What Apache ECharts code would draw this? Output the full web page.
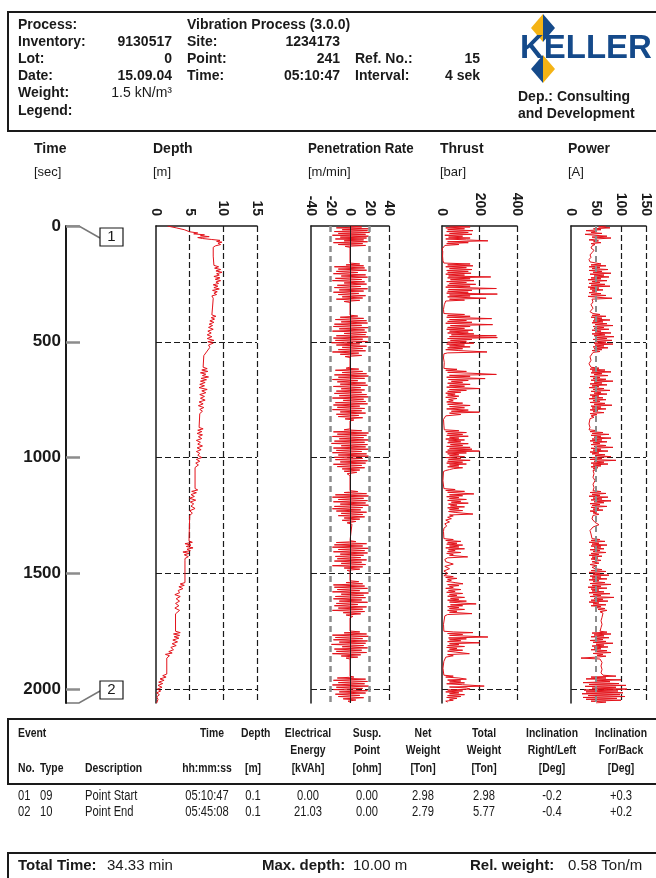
<!DOCTYPE html>
<html>
<head>
<meta charset="utf-8">
<script src="https://cdn.jsdelivr.net/npm/echarts@6/dist/echarts.min.js"></script>
<style>
  html, body { margin: 0; padding: 0; background: #fff; }
  #chart { width: 656px; height: 878px; }
</style>
</head>
<body>
<div id="chart"></div>
<script>
// every series is [time in sec, value]
const depth = [[0,1.7],[8,3.0],[16,4.2],[25,5.0],[30,6.2],[34,5.6],[38,7.2],[42,6.6],[46,7.9],[50,6.2],[54,6.9],[58,8.2],[62,9.5],[66,9.0],[70,9.8],[74,9.2],[80,9.6],[86,8.8],[92,8.5],[130,8.5],[170,8.6],[176,9.3],[182,8.7],[188,9.6],[194,8.9],[200,9.8],[206,9.0],[212,9.4],[218,8.6],[224,9.5],[230,8.8],[236,9.6],[242,8.9],[248,9.3],[254,8.5],[260,9.2],[266,8.6],[272,9.4],[278,8.4],[284,9.1],[290,8.6],[296,9.0],[302,8.3],[312,8.5],[350,8.4],[384,8.3],[390,8.9],[396,8.2],[402,8.7],[410,8.0],[416,8.6],[424,7.9],[430,8.4],[438,7.8],[446,8.5],[454,7.7],[462,8.2],[470,7.6],[478,8.3],[486,7.6],[494,8.6],[500,7.7],[506,8.5],[514,7.8],[524,8.0],[544,7.5],[560,7.1],[610,7.0],[616,7.6],[622,6.8],[628,7.7],[634,6.6],[640,7.4],[646,6.9],[652,7.8],[658,6.7],[664,7.5],[670,6.6],[676,7.3],[684,6.5],[690,7.2],[698,6.4],[706,7.6],[712,6.8],[720,7.4],[728,6.5],[736,7.2],[744,6.6],[752,7.3],[760,6.4],[768,7.0],[776,6.3],[784,7.1],[792,6.5],[800,6.9],[810,6.5],[870,6.4],[876,7.0],[882,6.2],[888,6.8],[896,6.1],[902,6.9],[910,6.3],[918,6.8],[926,6.0],[934,6.6],[942,6.2],[950,6.9],[958,6.1],[966,6.7],[974,6.0],[982,6.5],[990,6.2],[1000,6.8],[1008,6.0],[1016,6.5],[1024,5.9],[1032,6.3],[1043,5.8],[1134,5.8],[1140,6.2],[1146,5.3],[1152,6.0],[1160,5.2],[1168,5.7],[1176,5.0],[1184,5.9],[1192,5.1],[1200,5.6],[1210,5.2],[1220,5.8],[1230,5.0],[1240,5.4],[1250,5.0],[1260,5.0],[1360,4.9],[1366,5.4],[1372,4.3],[1378,5.2],[1384,4.5],[1390,5.5],[1396,4.6],[1402,5.1],[1408,4.0],[1414,4.9],[1420,4.2],[1428,4.8],[1436,4.3],[1446,4.3],[1540,4.3],[1546,3.6],[1552,4.2],[1558,3.4],[1566,4.0],[1574,3.3],[1584,3.5],[1592,2.8],[1600,3.6],[1610,3.0],[1620,3.5],[1630,2.9],[1640,3.4],[1650,2.8],[1660,3.5],[1675,2.9],[1750,2.9],[1756,3.6],[1762,2.6],[1768,3.5],[1774,2.7],[1780,3.4],[1788,2.5],[1796,3.2],[1804,2.4],[1812,3.0],[1820,2.2],[1830,2.6],[1838,1.9],[1844,2.4],[1850,1.4],[1856,2.0],[1866,1.6],[1935,1.6],[1942,1.0],[1948,1.5],[1956,0.6],[1962,1.2],[1970,0.4],[1976,1.0],[1984,0.3],[1992,0.9],[2000,0.2],[2008,0.7],[2016,0.1],[2024,0.5],[2034,0.1],[2044,0.3],[2060,0.1]]

const penRate = [[0,0],[4,12],[8,-14],[12,19],[16,-8],[20,18],[24,-16],[28,20],[32,-12],[36,16],[40,-18],[44,19],[48,-10],[52,17],[56,-15],[60,14],[64,-6],[68,18],[72,-17],[76,13],[80,-12],[84,16],[88,-5],[92,0],[160,0],
  [164,10],[168,-4],[172,14],[176,-16],[181,15],[186,-12],[191,17],[196,-14],[201,8],[206,-17],[211,16],[216,-9],[221,18],[226,-15],[231,12],[236,-18],[241,15],[246,-6],[251,17],[256,-13],[261,11],[266,-16],[271,18],[276,-11],[281,14],[286,-17],[291,9],[296,-12],[301,16],[306,-8],[311,13],[316,-14],[321,10],[326,-6],[330,0],[385,0],
  [389,8],[394,-10],[399,14],[404,-15],[409,17],[414,-9],[419,18],[424,-16],[429,12],[434,-17],[439,19],[444,-11],[449,15],[454,-18],[459,17],[464,-6],[469,16],[474,-14],[479,19],[484,-17],[489,13],[494,-15],[499,18],[504,-19],[509,10],[514,-14],[519,17],[524,-8],[529,13],[534,-12],[539,16],[544,-18],[549,9],[554,-10],[559,12],[564,-5],[568,0],[610,0],
  [614,-4],[618,9],[623,-15],[628,13],[633,-8],[638,17],[643,-16],[648,19],[653,-12],[658,15],[663,-18],[668,8],[673,-13],[678,16],[683,-10],[688,18],[693,-17],[698,11],[703,-9],[708,15],[713,-14],[718,12],[723,-16],[728,17],[733,-11],[738,19],[743,-18],[748,14],[753,-7],[758,16],[763,-15],[768,18],[773,-17],[778,10],[783,-13],[788,15],[793,-18],[798,12],[803,-10],[808,16],[813,-14],[818,9],[823,-12],[828,13],[833,-5],[838,4],[842,0],[876,0],
  [880,-6],[884,12],[889,-17],[894,19],[899,-13],[904,17],[909,-18],[914,14],[919,-11],[924,20],[929,-16],[934,15],[939,-19],[944,18],[949,-9],[954,16],[959,-17],[964,19],[969,-14],[974,12],[979,-18],[984,17],[989,-12],[994,19],[999,-16],[1004,13],[1009,-15],[1014,18],[1019,-10],[1024,16],[1029,-17],[1034,12],[1039,-13],[1044,15],[1049,-8],[1054,10],[1059,-6],[1064,7],[1070,-3],[1078,0],[1143,0],
  [1147,8],[1151,-6],[1156,17],[1161,-15],[1166,19],[1171,-18],[1176,14],[1181,-12],[1186,18],[1191,-17],[1196,16],[1201,-10],[1206,19],[1211,-16],[1216,13],[1221,-18],[1226,11],[1231,-14],[1236,17],[1241,-9],[1246,13],[1251,-12],[1256,15],[1261,-6],[1266,10],[1271,-8],[1276,6],[1282,-3],[1288,2],[1294,0],[1359,0],
  [1363,6],[1367,-14],[1372,17],[1377,-16],[1382,13],[1387,-18],[1392,19],[1397,-12],[1402,15],[1407,-17],[1412,18],[1417,-10],[1422,14],[1427,-15],[1432,11],[1437,-13],[1442,17],[1447,-16],[1452,12],[1457,-9],[1462,16],[1467,-18],[1472,13],[1477,-6],[1482,10],[1487,-3],[1491,0],[1532,0],
  [1536,9],[1540,-4],[1545,13],[1550,-17],[1555,15],[1560,-16],[1565,18],[1570,-13],[1575,10],[1580,-18],[1585,19],[1590,-9],[1595,14],[1600,-15],[1605,16],[1610,-17],[1615,12],[1620,-11],[1625,18],[1630,-14],[1635,8],[1640,-16],[1645,17],[1650,-12],[1655,13],[1660,-18],[1665,15],[1670,-7],[1675,11],[1680,-4],[1686,3],[1692,0],[1749,0],
  [1753,10],[1757,-6],[1762,17],[1767,-18],[1772,19],[1777,-15],[1782,13],[1787,-17],[1792,18],[1797,-11],[1802,16],[1807,-19],[1812,14],[1817,-8],[1822,18],[1827,-16],[1832,12],[1837,-14],[1842,17],[1847,-18],[1852,11],[1857,-9],[1862,8],[1866,-4],[1870,0],[1944,0],
  [1948,4],[1952,-13],[1957,16],[1962,-17],[1967,18],[1972,-12],[1977,15],[1982,-18],[1987,19],[1992,-14],[1997,13],[2002,-17],[2007,18],[2012,-11],[2017,16],[2022,-15],[2027,10],[2032,-12],[2037,14],[2042,-7],[2047,6],[2052,-2],[2056,0]]

const thrust = [[0,40],[4,150],[8,20],[12,120],[16,30],[20,165],[24,25],[28,140],[32,40],[36,160],[40,15],[44,110],[48,35],[52,150],[56,20],[60,130],[64,245],[68,30],[72,140],[76,25],[80,90],[84,15],[90,8],[100,0],[110,4],[130,3],[150,5],[160,10],
  [164,150],[168,30],[172,165],[176,20],[180,130],[184,40],[188,160],[192,25],[196,140],[200,30],[204,155],[208,20],[212,120],[216,35],[220,260],[224,30],[228,150],[232,45],[236,170],[240,25],[244,130],[248,40],[252,180],[256,30],[260,150],[264,20],[270,290],[274,35],[278,160],[282,30],[286,140],[290,25],[294,295],[298,40],[302,150],[306,30],[312,235],[316,40],[320,120],[324,20],[330,10],[340,12],[360,8],[378,10],
  [382,120],[386,30],[390,150],[394,25],[400,265],[404,40],[408,130],[412,30],[416,160],[420,20],[426,270],[430,45],[434,150],[438,30],[442,120],[446,25],[450,165],[454,40],[458,140],[462,30],[466,170],[470,50],[474,290],[478,40],[482,295],[486,30],[490,160],[494,45],[498,130],[502,30],[506,170],[510,25],[514,120],[518,40],[522,150],[526,30],[530,110],[534,20],[538,90],[544,240],[548,30],[552,10],[570,8],[590,12],[615,10],
  [619,80],[623,20],[628,130],[632,30],[636,160],[641,290],[645,40],[649,150],[653,25],[659,230],[663,35],[667,140],[671,50],[675,110],[679,30],[684,150],[688,40],[692,120],[696,25],[702,200],[706,40],[710,130],[714,30],[718,100],[722,20],[726,70],[730,30],[735,90],[740,20],[745,80],[750,35],[755,60],[760,25],[765,110],[770,30],[775,150],[780,40],[785,120],[790,25],[795,140],[800,50],[804,200],[808,40],[814,100],[820,20],[828,10],[835,8],[860,10],[880,12],
  [884,90],[888,20],[892,130],[896,30],[900,110],[904,25],[908,140],[912,40],[916,90],[920,20],[924,120],[928,35],[932,100],[936,30],[940,140],[944,45],[948,110],[952,25],[956,150],[960,40],[964,160],[968,30],[972,200],[976,20],[980,130],[984,30],[988,90],[992,40],[996,120],[1000,20],[1004,100],[1008,35],[1012,150],[1016,30],[1020,110],[1024,25],[1028,130],[1032,40],[1036,90],[1040,30],[1044,110],[1048,60],[1052,40],[1056,20],[1060,8],[1100,5],[1134,10],
  [1138,70],[1142,20],[1146,120],[1150,30],[1157,170],[1161,40],[1165,110],[1169,25],[1173,90],[1177,40],[1181,130],[1185,30],[1189,100],[1193,50],[1197,140],[1201,35],[1205,80],[1209,45],[1213,120],[1217,30],[1221,90],[1225,40],[1229,110],[1233,35],[1237,70],[1244,165],[1248,40],[1252,60],[1258,30],[1264,50],[1270,20],[1278,40],[1286,15],[1296,25],[1305,10],[1320,8],[1350,10],
  [1354,60],[1358,20],[1362,100],[1366,30],[1370,80],[1374,25],[1378,110],[1382,40],[1386,90],[1390,20],[1394,120],[1398,35],[1402,70],[1406,30],[1410,100],[1414,25],[1418,60],[1422,40],[1429,137],[1433,30],[1440,15],[1450,20],[1460,60],[1470,15],[1480,40],[1490,10],[1500,30],[1510,10],
  [1514,60],[1518,20],[1522,80],[1526,30],[1530,50],[1535,25],[1540,70],[1545,112],[1549,30],[1553,90],[1557,40],[1561,60],[1565,20],[1570,100],[1574,35],[1578,70],[1582,25],[1587,110],[1591,40],[1595,80],[1599,30],[1604,120],[1608,45],[1612,90],[1616,30],[1620,130],[1624,40],[1628,100],[1632,182],[1636,45],[1640,110],[1644,30],[1648,90],[1652,40],[1656,120],[1660,30],[1664,80],[1668,40],[1674,160],[1678,30],[1684,15],[1690,10],[1720,8],[1750,10],
  [1753,60],[1756,165],[1760,30],[1764,110],[1768,40],[1775,245],[1779,35],[1783,130],[1787,40],[1791,100],[1795,30],[1800,200],[1804,40],[1808,90],[1812,30],[1816,120],[1820,25],[1824,80],[1828,40],[1832,110],[1836,30],[1840,70],[1847,146],[1851,30],[1856,60],[1862,20],[1870,30],[1880,10],[1910,5],[1940,10],
  [1944,60],[1948,20],[1952,90],[1957,130],[1961,30],[1965,100],[1969,40],[1973,120],[1977,25],[1981,110],[1987,225],[1991,40],[1995,130],[2000,150],[2004,30],[2008,110],[2012,20],[2016,90],[2020,40],[2024,120],[2028,30],[2032,100],[2036,25],[2040,80],[2044,40],[2048,60],[2052,20],[2056,30],[2060,15]]

const power = [[0,70],[4,55],[8,78],[12,45],[16,60],[20,30],[24,52],[28,40],[32,62],[36,28],[40,48],[44,72],[48,42],[52,80],[56,50],[60,36],[64,55],[68,45],[72,60],[76,40],[80,48],[86,42],[95,40],[105,46],[115,42],[125,38],[135,40],[145,36],[155,38],[160,42],
  [164,60],[168,40],[172,70],[176,36],[180,58],[184,42],[188,74],[192,36],[196,62],[200,44],[204,80],[208,38],[212,66],[216,46],[220,76],[224,40],[228,60],[232,34],[236,72],[240,42],[244,58],[248,36],[252,68],[256,40],[260,78],[264,34],[268,56],[272,38],[276,64],[280,42],[284,52],[288,36],[292,60],[296,40],[300,70],[304,34],[308,54],[312,82],[316,42],[322,40],[328,44],[340,40],[355,44],[370,38],[378,44],
  [382,58],[386,42],[390,70],[394,40],[398,62],[402,46],[406,78],[410,44],[414,64],[418,42],[422,72],[426,48],[430,84],[434,44],[438,66],[442,46],[446,76],[450,42],[454,60],[458,48],[462,80],[466,42],[470,68],[474,46],[478,86],[482,50],[486,72],[490,44],[494,82],[498,52],[502,70],[506,46],[510,84],[514,48],[518,66],[522,44],[526,74],[530,46],[534,62],[538,42],[542,58],[546,44],[550,40],[565,38],[580,40],[595,36],[610,40],
  [614,56],[618,38],[622,68],[626,42],[630,80],[634,40],[638,62],[642,46],[646,74],[650,38],[654,58],[658,44],[662,70],[666,40],[670,84],[674,46],[678,62],[682,38],[686,72],[690,42],[694,56],[698,36],[702,66],[706,44],[710,78],[714,40],[718,60],[722,46],[726,72],[730,38],[734,56],[738,42],[742,64],[746,36],[750,70],[754,44],[758,58],[762,38],[766,68],[770,46],[774,82],[778,40],[782,60],[786,42],[790,70],[794,38],[798,54],[802,44],[806,66],[810,38],[815,52],[820,40],[826,46],[832,38],[840,40],[855,36],[870,38],[880,36],
  [884,52],[888,38],[892,64],[896,42],[900,76],[904,40],[908,60],[912,46],[916,80],[920,42],[924,62],[928,38],[932,72],[936,44],[940,58],[944,40],[948,70],[952,46],[956,84],[960,40],[964,60],[968,44],[972,74],[976,38],[980,56],[984,42],[988,68],[992,48],[996,80],[1000,42],[1004,62],[1008,38],[1012,90],[1016,46],[1020,66],[1024,40],[1028,74],[1032,44],[1036,60],[1040,40],[1044,54],[1048,44],[1052,52],[1056,44],[1070,46],[1085,44],[1100,48],[1115,44],[1130,46],[1143,44],
  [1147,60],[1151,38],[1155,70],[1159,42],[1163,58],[1167,36],[1171,74],[1175,44],[1179,62],[1183,40],[1187,80],[1191,46],[1195,66],[1199,38],[1203,58],[1207,42],[1211,72],[1215,40],[1219,56],[1223,44],[1227,64],[1231,38],[1235,52],[1239,44],[1245,56],[1250,44],[1265,42],[1280,48],[1290,56],[1300,44],[1315,38],[1330,40],[1350,42],
  [1354,58],[1358,40],[1362,68],[1366,36],[1370,56],[1374,42],[1378,72],[1382,40],[1386,60],[1390,46],[1394,66],[1398,38],[1402,58],[1406,44],[1410,70],[1414,40],[1418,56],[1422,36],[1426,62],[1430,42],[1434,54],[1438,40],[1444,60],[1450,42],[1456,56],[1462,38],[1468,52],[1474,42],[1480,48],
  [1484,62],[1488,40],[1492,70],[1496,36],[1500,58],[1504,44],[1508,76],[1512,38],[1516,60],[1520,42],[1524,72],[1528,36],[1532,56],[1536,44],[1540,68],[1544,38],[1548,80],[1552,42],[1556,60],[1560,34],[1564,72],[1568,40],[1572,56],[1576,42],[1580,66],[1584,36],[1588,78],[1592,44],[1596,60],[1600,38],[1604,86],[1608,46],[1612,64],[1616,40],[1620,74],[1624,36],[1628,56],[1632,44],[1636,70],[1640,40],[1644,60],[1648,48],[1652,68],[1656,54],[1660,72],[1666,58],[1672,64],[1680,60],[1690,62],[1705,60],[1720,62],[1735,60],[1750,58],
  [1754,72],[1758,42],[1762,80],[1766,46],[1770,66],[1774,40],[1778,76],[1782,48],[1786,64],[1790,38],[1794,70],[1798,44],[1802,84],[1806,50],[1810,66],[1814,42],[1818,74],[1822,46],[1826,60],[1830,40],[1834,72],[1838,48],[1842,80],[1846,44],[1850,64],[1854,52],[1858,70],[1862,50],[1866,20],[1870,58],[1885,62],[1900,60],[1915,62],[1930,60],[1940,64],
  [1944,90],[1948,40],[1952,70],[1956,30],[1960,100],[1964,48],[1968,78],[1972,24],[1976,96],[1980,36],[1984,110],[1988,28],[1992,90],[1996,42],[2000,112],[2004,26],[2008,94],[2012,30],[2016,104],[2020,22],[2024,98],[2028,34],[2032,108],[2036,24],[2040,92],[2044,30],[2048,100],[2052,40],[2056,70],[2060,50]]

const timeMax = 2060
const timeStep = 500

const events = [
  ['01', '09', 'Point Start', '05:10:47', '0.1', '0.00', '0.00', '2.98', '2.98', '-0.2', '+0.3'],
  ['02', '10', 'Point End', '05:45:08', '0.1', '21.03', '0.00', '2.79', '5.77', '-0.4', '+0.2']
]

const FONT = '"Liberation Sans", Arial, sans-serif'
const RED = '#e3131b'
const DARK = '#1a1a1a'
const GRAY = '#8c8c8c'

const panelTop = 226
const panelHeight = 477

// one panel per measured value
const panels = [
  { data: depth, left: 156, width: 101, min: 0, max: 15, interval: 5, split: ['#1a1a1a'], marks: [] },
  { data: penRate, left: 311, width: 78, min: -40, max: 40, interval: 20, split: ['transparent', 'transparent', 'transparent', '#1a1a1a'],
    marks: [{ xAxis: -20, lineStyle: { color: GRAY, width: 2.5, type: [6, 4] } }, { xAxis: 20, lineStyle: { color: GRAY, width: 2.5, type: [6, 4] } }, { xAxis: 0, lineStyle: { color: DARK, width: 1, type: 'solid' } }] },
  { data: thrust, left: 442, width: 75, min: 0, max: 400, interval: 200, split: ['#1a1a1a'], marks: [] },
  { data: power, left: 571, width: 75, min: 0, max: 150, interval: 50, split: ['transparent', '#1a1a1a', '#1a1a1a'],
    marks: [{ xAxis: 50, lineStyle: { color: GRAY, width: 2, type: [6, 4] } }] }
]

const grid = [{ left: 66, top: panelTop, width: 10, height: panelHeight, outerBoundsMode: 'none' }]
const xAxis = [{ gridIndex: 0, type: 'value', show: false }]
const yAxis = [{
  gridIndex: 0, type: 'value', min: 0, max: timeMax, interval: timeStep, inverse: true,
  axisLine: { show: true, lineStyle: { color: DARK, width: 2 } },
  axisTick: { show: true, inside: true, length: 14, lineStyle: { color: GRAY, width: 2.5 } },
  axisLabel: { margin: 5, fontSize: 17, fontWeight: 'bold', fontFamily: FONT, color: DARK, showMaxLabel: false,
    formatter: function(v) { return String(v) } },
  splitLine: { show: false }
}]
const series = []

panels.forEach(function(p, i) {
  const g = i + 1
  grid.push({ left: p.left, top: panelTop, width: p.width, height: panelHeight, outerBoundsMode: 'none' })
  xAxis.push({
    gridIndex: g, type: 'value', position: 'top', min: p.min, max: p.max, interval: p.interval,
    axisLine: { show: true, onZero: false, lineStyle: { color: DARK, width: 1.5 } },
    axisTick: { show: false },
    axisLabel: { rotate: 90, margin: 10, fontSize: 14, fontWeight: 'bold', fontFamily: FONT, color: DARK },
    splitLine: { show: true, showMinLine: false, lineStyle: { color: p.split, width: 1.2, type: [6, 3] } }
  })
  yAxis.push({
    gridIndex: g, type: 'value', min: 0, max: timeMax, interval: timeStep, inverse: true,
    axisLine: { show: true, onZero: false, lineStyle: { color: DARK, width: 1.5 } },
    axisTick: { show: false },
    axisLabel: { show: false },
    splitLine: { show: true, showMinLine: false, showMaxLine: false, lineStyle: { color: DARK, width: 1.2, type: [6, 3] } }
  })
  series.push({
    type: 'line', xAxisIndex: g, yAxisIndex: g, showSymbol: false, silent: true,
    lineStyle: { color: RED, width: 1 },
    data: p.data.map(function(d) { return [d[1], d[0]] }),
    markLine: { silent: true, symbol: ['none', 'none'], label: { show: false }, data: p.marks },
    z: 3
  })
})

function txt(x, y, s, o, sx) {
  return { type: 'text', x: x, y: y, scaleX: sx || 1, silent: true,
    style: Object.assign({ text: s, fill: DARK, font: 'bold 14px ' + FONT, align: 'left', verticalAlign: 'middle' }, o || {}) }
}
function line(points, w, color) {
  return { type: 'polyline', silent: true, shape: { points: points }, style: { stroke: color || DARK, lineWidth: w || 2, fill: null } }
}

const graphic = []
// header block
graphic.push({ type: 'rect', silent: true, shape: { x: 8, y: 12, width: 660, height: 119 }, style: { fill: null, stroke: DARK, lineWidth: 2 } })
graphic.push(txt(18, 25, 'Process:'), txt(18, 42, 'Inventory:'), txt(18, 59, 'Lot:'), txt(18, 76, 'Date:'), txt(18, 93, 'Weight:'), txt(18, 111, 'Legend:'))
graphic.push(txt(172, 42, '9130517', { align: 'right' }), txt(172, 59, '0', { align: 'right' }), txt(172, 76, '15.09.04', { align: 'right' }),
  txt(172, 93, '1.5 kN/m³', { align: 'right', font: '14px ' + FONT }))
graphic.push(txt(187, 25, 'Vibration Process (3.0.0)'), txt(187, 42, 'Site:'), txt(187, 59, 'Point:'), txt(187, 76, 'Time:'))
graphic.push(txt(340, 42, '1234173', { align: 'right' }), txt(340, 59, '241', { align: 'right' }), txt(340, 76, '05:10:47', { align: 'right' }))
graphic.push(txt(355, 59, 'Ref. No.:'), txt(355, 76, 'Interval:'), txt(480, 59, '15', { align: 'right' }), txt(480, 76, '4 sek', { align: 'right' }))
graphic.push(txt(518, 97, 'Dep.: Consulting'), txt(518, 114, 'and Development'))

// logo
const BLUE = '#154a8a'
const YEL = '#f4b315'
graphic.push({ type: 'polygon', silent: true, shape: { points: [[543, 14], [543, 42], [531, 28]] }, style: { fill: YEL } })
graphic.push({ type: 'polygon', silent: true, shape: { points: [[543, 14], [555, 28], [543, 42]] }, style: { fill: BLUE } })
graphic.push({ type: 'polygon', silent: true, shape: { points: [[543, 55], [543, 83], [531, 69]] }, style: { fill: BLUE } })
graphic.push({ type: 'polygon', silent: true, shape: { points: [[543, 55], [555, 69], [543, 83]] }, style: { fill: YEL } })
graphic.push(txt(520, 49, 'KELLER', { fill: BLUE, font: '900 34px ' + FONT }, 0.97))

// column titles
graphic.push(txt(34, 149, 'Time'), txt(153, 149, 'Depth'), txt(308, 149, 'Penetration Rate', null, 0.95), txt(440, 149, 'Thrust'), txt(568, 149, 'Power'))
const unitFont = '13px ' + FONT
graphic.push(txt(34, 172, '[sec]', { font: unitFont }), txt(153, 172, '[m]', { font: unitFont }), txt(308, 172, '[m/min]', { font: unitFont }),
  txt(440, 172, '[bar]', { font: unitFont }), txt(568, 172, '[A]', { font: unitFont }))

// start / end markers on the time axis
graphic.push(line([[66, 226], [79, 226], [100, 238]], 1.5, '#777'))
graphic.push(line([[66, 703], [79, 703], [100, 691]], 1.5, '#777'))
graphic.push({ type: 'rect', silent: true, shape: { x: 100, y: 228, width: 23, height: 18 }, style: { fill: '#fff', stroke: DARK, lineWidth: 1.2 } })
graphic.push({ type: 'rect', silent: true, shape: { x: 100, y: 681, width: 23, height: 18 }, style: { fill: '#fff', stroke: DARK, lineWidth: 1.2 } })
graphic.push(txt(111.5, 237, '1', { align: 'center', font: '15px ' + FONT }), txt(111.5, 690, '2', { align: 'center', font: '15px ' + FONT }))

// event table, condensed lettering
const NX = 0.8
graphic.push(line([[670, 719], [8, 719], [8, 784], [670, 784]], 2))
const hb = 'bold 13px ' + FONT
const th = function(x, y, s, a) { return txt(x, y, s, { font: hb, align: a || 'center' }, NX) }
graphic.push(th(18, 733, 'Event', 'left'), th(224, 733, 'Time', 'right'), th(241, 733, 'Depth', 'left'))
const cols = [308, 367, 423, 484, 552, 621]
const head1 = ['Electrical', 'Susp.', 'Net', 'Total', 'Inclination', 'Inclination']
const head2 = ['Energy', 'Point', 'Weight', 'Weight', 'Right/Left', 'For/Back']
const head3 = ['[kVAh]', '[ohm]', '[Ton]', '[Ton]', '[Deg]', '[Deg]']
cols.forEach(function(x, i) {
  graphic.push(th(x, 733, head1[i]), th(x, 750, head2[i]), th(x, 768, head3[i]))
})
graphic.push(th(18, 768, 'No.', 'left'), th(40, 768, 'Type', 'left'), th(85, 768, 'Description', 'left'), th(207, 768, 'hh:mm:ss'), th(253, 768, '[m]'))
const rowX = [[18, 'left'], [40, 'left'], [85, 'left'], [207, 'center'], [253, 'center']].concat(cols.map(function(x) { return [x, 'center'] }))
events.forEach(function(row, r) {
  row.forEach(function(s, i) {
    graphic.push(txt(rowX[i][0], 796 + r * 16, s, { font: '14px ' + FONT, align: rowX[i][1] }, NX))
  })
})

// summary line
graphic.push(line([[8, 890], [8, 853], [670, 853]], 2))
const ff = '15px ' + FONT
graphic.push(txt(18, 866, 'Total Time:', { font: 'bold ' + ff }), txt(107, 866, '34.33 min', { font: ff }))
graphic.push(txt(262, 866, 'Max. depth:', { font: 'bold ' + ff }), txt(353, 866, '10.00 m', { font: ff }))
graphic.push(txt(470, 866, 'Rel. weight:', { font: 'bold ' + ff }), txt(568, 866, '0.58 Ton/m', { font: ff }))

const chart = echarts.init(document.getElementById('chart'))
chart.setOption({
  animation: false,
  backgroundColor: '#fff',
  grid: grid,
  xAxis: xAxis,
  yAxis: yAxis,
  series: series,
  graphic: graphic
})
</script>
</body>
</html>
